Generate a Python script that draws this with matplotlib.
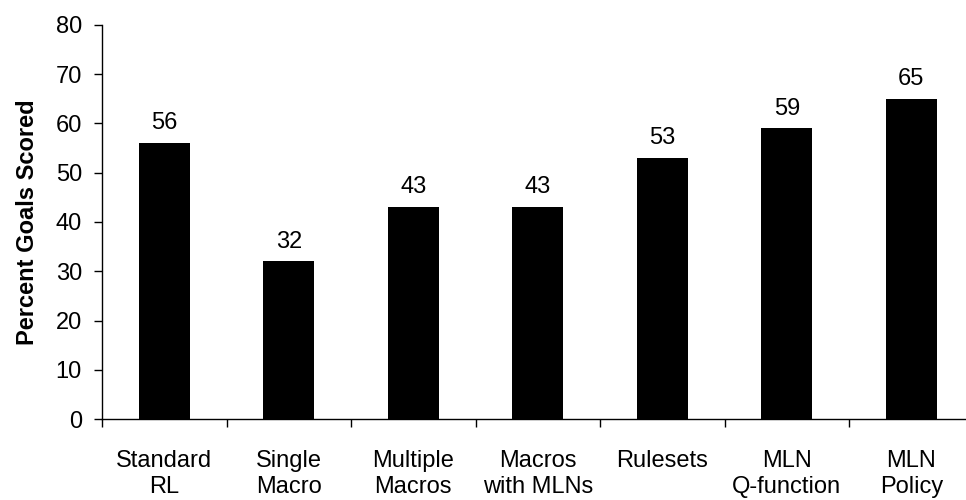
import matplotlib.pyplot as plt
import numpy as np

plt.rcParams['font.family'] = ['Liberation Sans', 'DejaVu Sans']

categories = ['Standard\nRL', 'Single\nMacro', 'Multiple\nMacros', 'Macros\nwith MLNs',
              'Rulesets', 'MLN\nQ-function', 'MLN\nPolicy']
goals = [56, 32, 43, 43, 53, 59, 65]

fig = plt.figure(figsize=(9.66, 5.0), dpi=100)
ax = fig.add_axes([102 / 966, 81 / 500, 871.5 / 966, 394 / 500])

x = np.arange(len(categories))
ax.bar(x, goals, width=0.41, color='black')
for xi, v in zip(x, goals):
    ax.annotate(str(v), (xi, v), xytext=(0, 10), textcoords='offset points',
                ha='center', va='baseline', fontsize=17)

ax.set_xlim(-0.5, len(categories) - 0.5)
ax.set_ylim(0, 80)
ax.set_yticks(range(0, 81, 10))
ax.set_xticks(x)
ax.set_xticklabels(categories, fontsize=17, linespacing=1.25)
ax.set_xticks(np.arange(-0.5, len(categories), 1), minor=True)
ax.tick_params(axis='x', which='major', length=0, pad=22)
ax.tick_params(axis='x', which='minor', length=6, width=1, direction='out')
ax.tick_params(axis='y', labelsize=17, length=5.5, width=1, direction='out', pad=9)

for s in ['top', 'right']:
    ax.spines[s].set_visible(False)
ax.spines['left'].set_linewidth(1)
ax.spines['bottom'].set_linewidth(1)

ax.set_ylabel('Percent Goals Scored', fontsize=17, fontweight='bold', labelpad=12)

fig.savefig('out.png', dpi=100)
